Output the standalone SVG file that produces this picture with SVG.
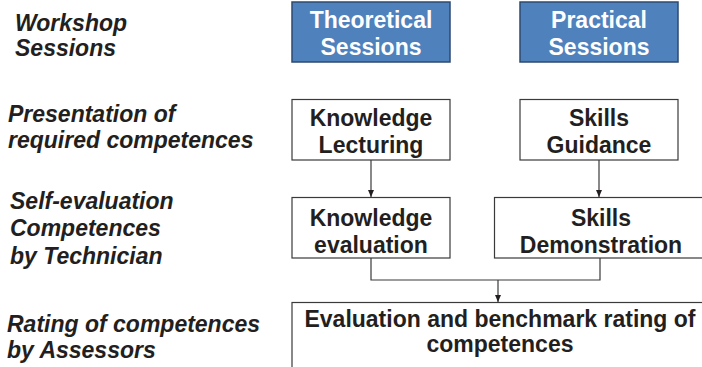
<svg xmlns="http://www.w3.org/2000/svg" width="702" height="367" viewBox="0 0 702 367">
<defs>
<style>
.lbl{font-family:"Liberation Sans",Arial,sans-serif;font-weight:bold;font-style:italic;font-size:23px;fill:#231f20}
.t{font-family:"Liberation Sans",Arial,sans-serif;font-weight:bold;font-size:23px;fill:#231f20;text-anchor:middle}
.tw{font-family:"Liberation Sans",Arial,sans-serif;font-weight:bold;font-size:23px;fill:#ffffff;text-anchor:middle}
.blue{fill:#4f81bd;stroke:#2c4a70;stroke-width:1.5}
.box{fill:#ffffff;stroke:#3a3a3a;stroke-width:1.2}
.con{fill:none;stroke:#3a3a3a;stroke-width:1.2}
</style>
<marker id="ah" markerWidth="8" markerHeight="8" refX="7" refY="4" orient="auto" markerUnits="userSpaceOnUse">
<path d="M0,1 L7,4 L0,7 Z" fill="#231f20"/>
</marker>
</defs>
<rect width="702" height="367" fill="#ffffff"/>
<g id="labels">
<text class="lbl" x="15" y="31">Workshop</text>
<text class="lbl" x="15" y="56">Sessions</text>
<text class="lbl" x="8" y="122">Presentation of</text>
<text class="lbl" x="8" y="148">required competences</text>
<text class="lbl" x="10" y="209">Self-evaluation</text>
<text class="lbl" x="10" y="236">Competences</text>
<text class="lbl" x="10" y="264">by Technician</text>
<text class="lbl" x="7" y="332">Rating of competences</text>
<text class="lbl" x="7" y="358">by Assessors</text>
</g>
<g id="connectors">
<line class="con" x1="371" y1="160" x2="371" y2="197" marker-end="url(#ah)"/>
<line class="con" x1="599" y1="160" x2="599" y2="197" marker-end="url(#ah)"/>
<polyline class="con" points="371,258 371,280 600,280 600,258"/>
<line class="con" x1="498" y1="280" x2="498" y2="302" marker-end="url(#ah)"/>
</g>
<g id="theoretical">
<rect class="blue" x="292" y="2" width="158" height="60"/>
<text class="tw" x="371" y="28">Theoretical</text>
<text class="tw" x="371" y="55">Sessions</text>
</g>
<g id="practical">
<rect class="blue" x="520" y="2" width="158" height="60"/>
<text class="tw" x="599" y="28">Practical</text>
<text class="tw" x="599" y="55">Sessions</text>
</g>
<g id="knowledge-lecturing">
<rect class="box" x="292" y="99.5" width="158" height="60.5"/>
<text class="t" x="371" y="126">Knowledge</text>
<text class="t" x="371" y="153">Lecturing</text>
</g>
<g id="skills-guidance">
<rect class="box" x="520" y="99.5" width="158" height="60.5"/>
<text class="t" x="599" y="126">Skills</text>
<text class="t" x="599" y="153">Guidance</text>
</g>
<g id="knowledge-evaluation">
<rect class="box" x="292" y="197.5" width="158" height="60.5"/>
<text class="t" x="371" y="226">Knowledge</text>
<text class="t" x="371" y="253">evaluation</text>
</g>
<g id="skills-demonstration">
<rect class="box" x="494.5" y="197.5" width="214" height="60.5"/>
<text class="t" x="601" y="226">Skills</text>
<text class="t" x="601" y="253">Demonstration</text>
</g>
<g id="rating">
<rect class="box" x="292" y="302.5" width="420" height="80"/>
<text class="t" x="500" y="327">Evaluation and benchmark rating of</text>
<text class="t" x="500" y="352">competences</text>
</g>
</svg>
